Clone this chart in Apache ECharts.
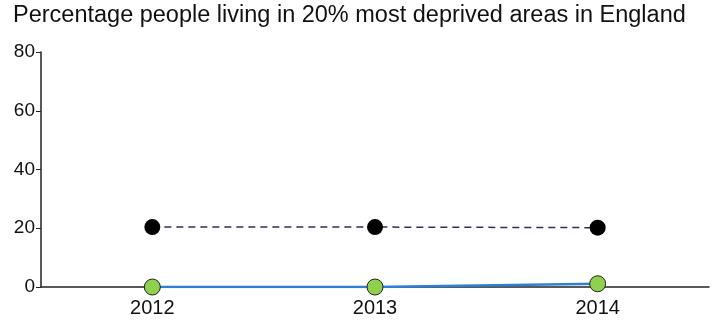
<!DOCTYPE html>
<html>
<head>
<meta charset="utf-8">
<script src="https://cdn.jsdelivr.net/npm/echarts@6/dist/echarts.min.js"></script>
<style>
  html, body { margin: 0; padding: 0; background: #fff; }
  #chart { width: 725px; height: 322px; }
</style>
</head>
<body>
<div id="chart"></div>
<script>
// Share of people living in the 20% most deprived areas, by year
const years = ['2012', '2013', '2014'];
const englandValues = [20.4, 20.4, 20.2];
const localValues = [0, 0, 1.1];
const yTicks = [0, 20, 40, 60, 80];

const chart = echarts.init(document.getElementById('chart'), null, { renderer: 'canvas' });

const FONT = 'Liberation Sans, Arial, sans-serif';

chart.setOption({
  animation: false,
  backgroundColor: '#ffffff',
  title: {
    text: 'Percentage people living in 20% most deprived areas in England',
    left: 13,
    top: 4,
    padding: 0,
    textStyle: {
      fontFamily: FONT,
      fontSize: 23.5,
      fontWeight: 'normal',
      color: '#111'
    }
  },
  grid: { left: 41, right: 16, top: 52, bottom: 35 },
  xAxis: {
    type: 'category',
    data: years,
    boundaryGap: true,
    axisLine: { lineStyle: { color: '#222', width: 1.5 } },
    axisTick: { show: true, alignWithLabel: true, length: 4, lineStyle: { color: '#222' } },
    axisLabel: {
      fontFamily: FONT,
      fontSize: 20,
      color: '#111',
      margin: 11
    }
  },
  yAxis: {
    type: 'value',
    min: yTicks[0],
    max: yTicks[yTicks.length - 1],
    interval: 20,
    axisLine: { show: true, lineStyle: { color: '#222', width: 1.5 } },
    axisTick: { show: true, length: 5, lineStyle: { color: '#222' } },
    splitLine: { show: false },
    axisLabel: {
      fontFamily: FONT,
      fontSize: 19,
      color: '#111',
      margin: 6
    }
  },
  series: [
    {
      name: 'England',
      type: 'line',
      data: englandValues,
      symbol: 'circle',
      symbolSize: 16,
      lineStyle: { color: '#2a2f66', width: 1.5, type: [7, 5] },
      itemStyle: { color: '#000000', borderColor: '#000000', borderWidth: 0 },
      z: 3
    },
    {
      name: 'Area',
      type: 'line',
      data: localValues,
      symbol: 'circle',
      symbolSize: 16,
      lineStyle: { color: '#2f7fd8', width: 2.5 },
      itemStyle: { color: '#8fd14f', borderColor: '#222', borderWidth: 1 },
      z: 4
    }
  ]
});
</script>
</body>
</html>
